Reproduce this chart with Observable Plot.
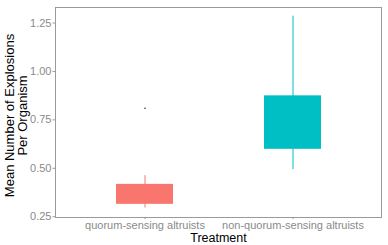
<!DOCTYPE html>
<html>
<head>
<meta charset="utf-8">
<script src="https://cdn.jsdelivr.net/npm/d3@7"></script>
<script src="https://cdn.jsdelivr.net/npm/@observablehq/plot@0.6"></script>
<style>
  body { margin: 0; background: #fff; }
  svg { font-family: Arial, "Liberation Sans", sans-serif; }
</style>
</head>
<body>
<div id="chart"></div>
<script>
const treatments = ["quorum-sensing altruists", "non-quorum-sensing altruists"];
const colors = ["#F8766D", "#00BFC4"];
const q1 = [0.314, 0.598];
const q3 = [0.417, 0.874];
const whiskerLow = [0.295, 0.493];
const whiskerHigh = [0.462, 1.285];
const outlierTreatment = ["quorum-sensing altruists"];
const outlierValue = [0.81];
const yTicks = [0.25, 0.5, 0.75, 1.0, 1.25];

const boxes = treatments.map((t, i) => ({t, q1: q1[i], q3: q3[i], lo: whiskerLow[i], hi: whiskerHigh[i]}));
const outliers = outlierTreatment.map((t, i) => ({t, v: outlierValue[i]}));

const plot = Plot.plot({
  width: 388,
  height: 245,
  marginLeft: 55,
  marginRight: 7,
  marginTop: 7,
  marginBottom: 28,
  style: {fontFamily: 'Arial, "Liberation Sans", sans-serif', background: "#fff"},
  x: {type: "band", domain: treatments, paddingInner: 0.6175, paddingOuter: 0.409, label: null, axis: null},
  y: {domain: [0.246, 1.33], label: null, axis: null},
  color: {domain: treatments, range: colors},
  marks: [
    Plot.ruleX(boxes, {x: "t", y1: "lo", y2: "hi", stroke: "t", strokeWidth: 1}),
    Plot.barY(boxes, {x: "t", y1: "q1", y2: "q3", fill: "t"}),
    Plot.dot(outliers, {x: "t", y: "v", r: 0.8, fill: "#333", stroke: null}),
    Plot.frame({stroke: "#9a9a9a", strokeWidth: 1}),
    Plot.axisY(yTicks, {tickFormat: d => d.toFixed(2), tickSize: 2.5, tickPadding: 1.5, fontSize: 11, stroke: "#9a9a9a", color: "#8a8a8a", label: null}),
    Plot.axisX({tickSize: 2, tickPadding: 2, fontSize: 11, stroke: "#9a9a9a", color: "#8a8a8a", label: null}),
    Plot.text(["Treatment"], {frameAnchor: "bottom", dy: 24, fontSize: 12.5, fill: "black", lineAnchor: "bottom"}),
    Plot.text(["Mean Number of Explosions\nPer Organism"], {frameAnchor: "left", dx: -39, dy: 3, rotate: -90, fontSize: 13, fill: "black", lineAnchor: "middle", textAnchor: "middle"})
  ]
});
document.getElementById("chart").append(plot);
</script>
</body>
</html>
